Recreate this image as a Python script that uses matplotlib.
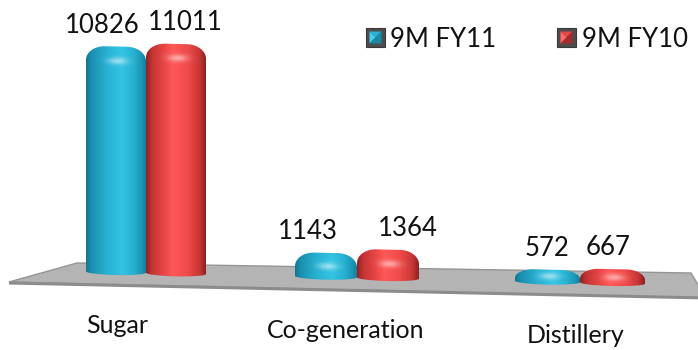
import numpy as np
import matplotlib
matplotlib.use("Agg")
import matplotlib.pyplot as plt
from matplotlib.path import Path
from matplotlib.patches import PathPatch, Polygon
from matplotlib.transforms import Affine2D
from matplotlib.colors import LinearSegmentedColormap

categories = ["Sugar", "Co-generation", "Distillery"]
series_names = ["9M FY11", "9M FY10"]
fy11 = [10826, 1143, 572]
fy10 = [11011, 1364, 667]

W, H = 698, 350
FONT = "Lato"

# layout (pixels): group centres, bar widths, value label nudges, category label anchors
group_x = [146, 357, 580]
bar_w = [60, 62, 65]
label_nudge = [(-14, 9), (-18, 20), (-1, -4)]
label_xy = [(117, 333), (346, 338), (576, 343)]

fig = plt.figure(figsize=(W / 100, H / 100), dpi=100)
ax = fig.add_axes([0, 0, 1, 1])
ax.axis("off")

units_per_px = 48.0
base_px = 80.54
ylim = (-base_px * units_per_px, (H - base_px) * units_per_px)
slope = 0.0221  # floor tilt
tr = ax.transData + Affine2D().skew(0, np.arctan(-slope))
px = Affine2D().scale(1, -1).translate(0, H)  # pixel coords, y down

# floor slab
ax.add_patch(Polygon([(9, 282), (77, 263), (691, 273), (706, 298)], closed=True,
                     transform=px, facecolor="#b4b4b4", edgecolor="#959595", lw=1.0, zorder=1))
ax.plot([9, 706], [283, 298], color="#8c8c8c", lw=2.2, transform=px, zorder=1.1,
        solid_capstyle="butt")

cyan = LinearSegmentedColormap.from_list("cyan", [
    (0.0, "#14758f"), (0.08, "#1c8fae"), (0.35, "#27b1d2"), (0.6, "#34c4e3"),
    (0.8, "#27b0d0"), (0.93, "#1c97b6"), (1.0, "#167f9a")])
red = LinearSegmentedColormap.from_list("red", [
    (0.0, "#8e2424"), (0.1, "#c53434"), (0.3, "#e84646"), (0.45, "#ff5858"),
    (0.7, "#ef4a4a"), (0.9, "#c83535"), (1.0, "#8a2222")])

K = 0.5523


def bar_path(x0, x1, top, rx, ry, d):
    xc = (x0 + x1) / 2
    hw = (x1 - x0) / 2
    verts = [(x0, 0), (x0, top - ry),
             (x0, top - ry + K * ry), (x0 + rx - K * rx, top), (x0 + rx, top),
             (x1 - rx, top),
             (x1 - rx + K * rx, top), (x1, top - ry + K * ry), (x1, top - ry),
             (x1, 0),
             (x1, -K * d), (xc + K * hw, -d), (xc, -d),
             (xc - K * hw, -d), (x0, -K * d), (x0, 0),
             (x0, 0)]
    codes = ([Path.MOVETO, Path.LINETO] + [Path.CURVE4] * 3 + [Path.LINETO]
             + [Path.CURVE4] * 3 + [Path.LINETO] + [Path.CURVE4] * 6 + [Path.CLOSEPOLY])
    return Path(verts, codes)


def draw_bar(x0, x1, value, cmap, nudge):
    w = x1 - x0
    h_px = value / units_per_px
    d_px = 3.0
    ry_px = min(14.0, 0.75 * h_px)
    rx = min(19.0, w / 2)
    patch = PathPatch(bar_path(x0, x1, value, rx, ry_px * units_per_px, d_px * units_per_px),
                      transform=tr, facecolor="none", edgecolor="none")
    # shaded body: horizontal cylinder gradient plus a soft highlight under the cap
    ncol = int(w * 2)
    nrow = int((h_px + d_px) * 2) + 2
    u = np.linspace(0, 1, ncol)
    t = np.linspace(0, h_px + d_px, nrow)
    rgb = cmap(u)[:, :3][None, :, :].repeat(nrow, axis=0)
    xs = x0 + u * w
    ht = min(14.0, 0.6 * h_px)
    hl = 0.5 * np.exp(-((xs[None, :] - (x0 + w * 0.53)) / 10.0) ** 2
                      - ((t[:, None] - ht) / 3.5) ** 2)
    rgb = rgb * (1 - hl[..., None]) + hl[..., None]
    im = ax.imshow(rgb, extent=(x0, x1, -d_px * units_per_px, value), origin="upper",
                   transform=tr, interpolation="bilinear", aspect="auto", zorder=2)
    im.set_clip_path(patch)
    ax.annotate(f"{value}", xy=((x0 + x1) / 2, value), xycoords=tr,
                xytext=(nudge * 0.72, 10), textcoords="offset points",
                ha="center", va="baseline", fontsize=18.5, family=FONT,
                color="#111111", zorder=3)


for i in range(len(categories)):
    cx, w = group_x[i], bar_w[i]
    draw_bar(cx - w, cx, fy11[i], cyan, label_nudge[i][0])
    draw_bar(cx, cx + w, fy10[i], red, label_nudge[i][1])
    lx, ly = label_xy[i]
    ax.text(lx, ly, categories[i], transform=px, ha="center", va="baseline",
            fontsize=18, family=FONT, color="#111111")


def legend_marker(x, y, s, light, mid, dark):
    ax.add_patch(Polygon([(x, y), (x + s, y), (x + s, y + s), (x, y + s)], closed=True,
                         transform=px, facecolor="#4d4d4d", edgecolor="#3a3a3a", lw=0.8))
    b = 3.5
    a0, a1 = x + b, x + s - b
    c0, c1 = y + b, y + s - b
    cx, cy = x + s / 2, y + s / 2
    faces = [([(a0, c0), (a1, c0), (cx, cy)], mid),
             ([(a0, c0), (a0, c1), (cx, cy)], light),
             ([(a1, c0), (a1, c1), (cx, cy)], dark),
             ([(a0, c1), (a1, c1), (cx, cy)], dark)]
    for pts, col in faces:
        ax.add_patch(Polygon(pts, closed=True, transform=px, facecolor=col, edgecolor="none"))


legend_marker(366, 28, 19, "#3fd0ee", "#27b1d2", "#1a8aa8")
ax.text(390, 47, series_names[0], transform=px, ha="left", va="baseline",
        fontsize=18.5, family=FONT, color="#111111")
legend_marker(557, 28, 19, "#ff6a6a", "#e84646", "#a82a2a")
ax.text(582, 47, series_names[1], transform=px, ha="left", va="baseline",
        fontsize=18.5, family=FONT, color="#111111")

ax.set_xlim(0, W)
ax.set_ylim(*ylim)
fig.savefig("out.png", dpi=100)
